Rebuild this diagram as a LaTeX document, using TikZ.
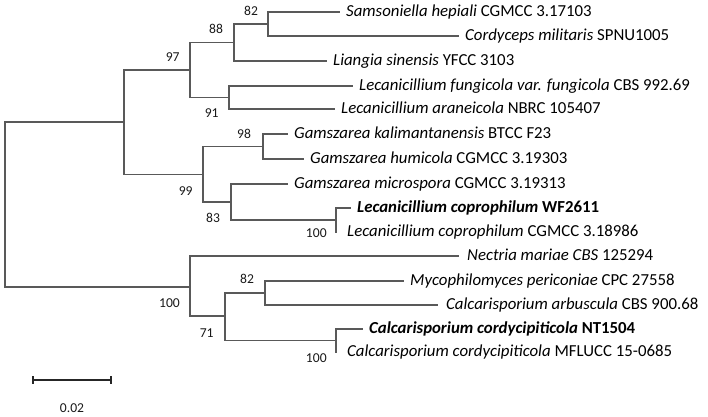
\documentclass[tikz,border=0pt]{standalone}
\usepackage{fontspec}
\setmainfont{Carlito}
\begin{document}
\begin{tikzpicture}[x=1pt,y=-1pt,
  branch/.style={draw=black!65, line width=1.3pt, line cap=rect},
  leaf/.style={anchor=base west, inner sep=0pt, xshift=7pt, yshift=-4.5pt, text=black, font=\fontsize{16.8}{18}\selectfont},
  boot/.style={anchor=base, inner sep=0pt, text=black!90, font=\fontsize{13.6}{15}\selectfont}]
\useasboundingbox (0,0) rectangle (708,416);
% internal nodes
\coordinate (root) at (5,204.5);
\coordinate (A) at (124,122);
\coordinate (B) at (190,70);
\coordinate (C) at (234,42.5);
\coordinate (D) at (268,24);
\coordinate (E) at (229,97.5);
\coordinate (F) at (203,174.5);
\coordinate (G) at (263,146.5);
\coordinate (H) at (231,202);
\coordinate (I) at (336,220);
\coordinate (J) at (190,287);
\coordinate (K) at (225,316);
\coordinate (L) at (265,293);
\coordinate (M) at (336,340.5);
% leaf tips
\coordinate (t1) at (339,12);
\coordinate (t2) at (458,36);
\coordinate (t3) at (326,61);
\coordinate (t4) at (352,86);
\coordinate (t5) at (334,109);
\coordinate (t6) at (287,134);
\coordinate (t7) at (303,159);
\coordinate (t8) at (287,184);
\coordinate (t9) at (350,208);
\coordinate (t10) at (336,232);
\coordinate (t11) at (458,256);
\coordinate (t12) at (403,281);
\coordinate (t13) at (437,305);
\coordinate (t14) at (362,329);
\coordinate (t15) at (336,352);
% branches
\draw[branch] (root) |- (A);
\draw[branch] (root) |- (J);
\draw[branch] (A) |- (B);
\draw[branch] (A) |- (F);
\draw[branch] (B) |- (C);
\draw[branch] (B) |- (E);
\draw[branch] (C) |- (D);
\draw[branch] (C) |- (t3);
\draw[branch] (D) |- (t1);
\draw[branch] (D) |- (t2);
\draw[branch] (E) |- (t4);
\draw[branch] (E) |- (t5);
\draw[branch] (F) |- (G);
\draw[branch] (F) |- (H);
\draw[branch] (G) |- (t6);
\draw[branch] (G) |- (t7);
\draw[branch] (H) |- (t8);
\draw[branch] (H) |- (I);
\draw[branch] (I) |- (t9);
\draw[branch] (I) |- (t10);
\draw[branch] (J) |- (t11);
\draw[branch] (J) |- (K);
\draw[branch] (K) |- (L);
\draw[branch] (K) |- (M);
\draw[branch] (L) |- (t12);
\draw[branch] (L) |- (t13);
\draw[branch] (M) |- (t14);
\draw[branch] (M) |- (t15);
% leaf labels
\node[leaf] (n1) at (t1) {\textit{Samsoniella hepiali} CGMCC 3.17103};
\node[leaf] (n2) at (t2) {\textit{Cordyceps militaris} SPNU1005};
\node[leaf] (n3) at (t3) {\textit{Liangia sinensis} YFCC 3103};
\node[leaf] (n4) at (t4) {\textit{Lecanicillium fungicola var. fungicola} CBS 992.69};
\node[leaf] (n5) at (t5) {\textit{Lecanicillium araneicola} NBRC 105407};
\node[leaf] (n6) at (t6) {\textit{Gamszarea kalimantanensis} BTCC F23};
\node[leaf] (n7) at (t7) {\textit{Gamszarea humicola} CGMCC 3.19303};
\node[leaf] (n8) at (t8) {\textit{Gamszarea microspora} CGMCC 3.19313};
\node[leaf] (n9) at (t9) {\textbf{\textit{Lecanicillium coprophilum} WF2611}};
\node[leaf, xshift=4pt] (n10) at (t10) {\textit{Lecanicillium coprophilum} CGMCC 3.18986};
\node[leaf, xshift=2pt] (n11) at (t11) {\textit{Nectria mariae CBS} 125294};
\node[leaf] (n12) at (t12) {\textit{Mycophilomyces periconiae} CPC 27558};
\node[leaf, xshift=2pt] (n13) at (t13) {\textit{Calcarisporium arbuscula} CBS 900.68};
\node[leaf] (n14) at (t14) {\textbf{\textit{Calcarisporium cordycipiticola} NT1504}};
\node[leaf, xshift=4pt] (n15) at (t15) {\textit{Calcarisporium cordycipiticola} MFLUCC 15-0685};
% bootstrap values
\node[boot] (b1) at (251,15.1) {82};
\node[boot] (b2) at (216,33.6) {88};
\node[boot] (b3) at (172.7,61) {97};
\node[boot] (b4) at (211.7,117) {91};
\node[boot] (b5) at (244,138.3) {98};
\node[boot] (b6) at (185.7,195.3) {99};
\node[boot] (b7) at (213,222) {83};
\node[boot] (b8) at (316.3,237.6) {100};
\node[boot] (b9) at (247,283.3) {82};
\node[boot] (b10) at (169.5,307) {100};
\node[boot] (b11) at (206.7,337) {71};
\node[boot] (b12) at (316.3,362) {100};
% scale bar
\coordinate (s1) at (33,380);
\coordinate (s2) at (111,380);
\draw[line width=1.3pt, draw=black!85] (s1) -- (s2);
\draw[line width=1.3pt, draw=black!85] ([yshift=4pt]s1) -- ([yshift=-4pt]s1);
\draw[line width=1.3pt, draw=black!85] ([yshift=4pt]s2) -- ([yshift=-4pt]s2);
\node[boot] (sl) at (72,412.3) {0.02};
\end{tikzpicture}
\end{document}
